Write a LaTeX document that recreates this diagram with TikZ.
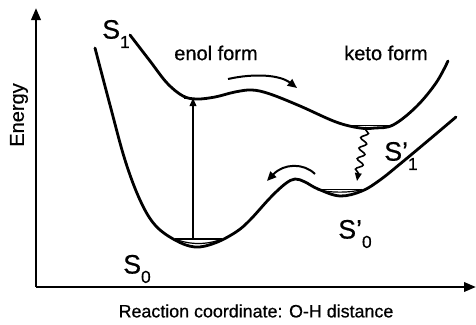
\documentclass[tikz,border=0pt]{standalone}
\usepackage{fontspec}
\setmainfont{Liberation Sans}
\usetikzlibrary{arrows.meta,decorations.pathmorphing}
\newcommand{\Slab}[2]{#1\raisebox{-0.35em}{\fontsize{13}{13}\selectfont\addfontfeatures{FakeBold=0.6}#2}}
\begin{document}
\begin{tikzpicture}[x=0.75pt,y=-0.75pt,
 curve/.style={line width=2.1pt, line join=round, line cap=round},
 axis/.style={line width=1.9pt, -{Triangle[length=9pt,width=7pt]}},
 lvl/.style={line width=0.9pt},
 tipv/.style={line width=1.1pt, -{Triangle[length=6pt,width=5pt]}},
 curvarrow/.style={line width=1.5pt, -{Triangle[length=7pt,width=6pt]}},
 lab/.style={font=\fontsize{15}{15}\selectfont\addfontfeatures{FakeBold=0.6}, inner sep=0pt},
 axlab/.style={font=\fontsize{13.4}{14}\selectfont\addfontfeatures{FakeBold=0.6}, inner sep=0pt},
 slab/.style={font=\fontsize{20}{20}\selectfont\addfontfeatures{FakeBold=0.6}, inner sep=0pt}]
\useasboundingbox (0,0) rectangle (476,325);
% axes
\coordinate (O) at (36,287);
\coordinate (ytop) at (36,8);
\coordinate (xend) at (476,287);
\draw[axis] (O) -- (ytop);
\draw[axis] (O) -- (xend);
\node[lab, rotate=90] (energy) at (19,115) {Energy};
\node[axlab] (xlab) at (256,311) {Reaction coordinate: O-H distance};
% S1 curve
\draw[curve] plot[smooth, tension=0.6] coordinates {(130,35) (150,61) (167,83) (183,96) (197,99) (215,97) (235,92) (252,90) (270,94) (300,106) (336,122) (360,128) (375,128) (393,125) (416,107) (436,83) (448,61)};
% S0 curve
\draw[curve] plot[smooth, tension=0.6] coordinates {(95,48) (110,105) (125,160) (140,200) (155,225) (175,240) (195,247) (215,243) (236,232) (250,220) (270,198) (285,184) (295,179) (305,182) (318,189) (340,196) (362,191) (380,180) (400,164) (430,139) (456,117)};
% vibrational levels
\coordinate (l0a) at (175,239); \coordinate (l0b) at (222,239);
\draw[lvl] (l0a) -- (l0b);
\draw[lvl] (l0a) .. controls (190,245) and (207,245) .. (l0b);
\coordinate (l1a) at (184,98.5); \coordinate (l1b) at (207,98.5);
\draw[lvl] (l1a) -- (l1b);
\coordinate (lka) at (348,125.5); \coordinate (lkb) at (393,125.5);
\draw[lvl] (lka) -- (lkb);
\draw[lvl] (lka) .. controls (360,129) and (380,129) .. (lkb);
\coordinate (lpa) at (317,189.5); \coordinate (lpb) at (362,189.5);
\draw[lvl] (lpa) -- (lpb);
\draw[lvl] (lpa) .. controls (330,193) and (350,193) .. (lpb);
% absorption arrow
\coordinate (abs0) at (193,239);
\coordinate (abs1) at (193,98);
\draw[tipv] (abs0) -- (abs1);
% wavy arrow
\coordinate (w0) at (366,127);
\coordinate (w1) at (357,181);
\draw[line width=1.2pt, -{Triangle[length=6pt,width=5pt]}, decorate, decoration={snake, amplitude=2.6pt, segment length=8pt, pre length=2pt, post length=6pt}] (w0) -- (w1);
% curved arrows
\coordinate (c0) at (228,79);
\coordinate (c1) at (297,88);
\draw[curvarrow] (c0) .. controls (255,73) and (280,75) .. (c1);
\coordinate (d0) at (315,174);
\coordinate (d1) at (267,181);
\draw[curvarrow] (d0) .. controls (304,163) and (284,163) .. (d1);
% labels
\node[lab] (enol) at (216,53) {enol form};
\node[lab] (keto) at (386,53) {keto form};
\node[slab] (S1) at (116,34) {\Slab{S}{1}};
\node[slab] (S0) at (137,269) {\Slab{S}{0}};
\node[slab] (Sp1) at (401,156) {\Slab{S'}{1}};
\node[slab] (Sp0) at (355,234) {\Slab{S'}{0}};
\end{tikzpicture}
\end{document}
